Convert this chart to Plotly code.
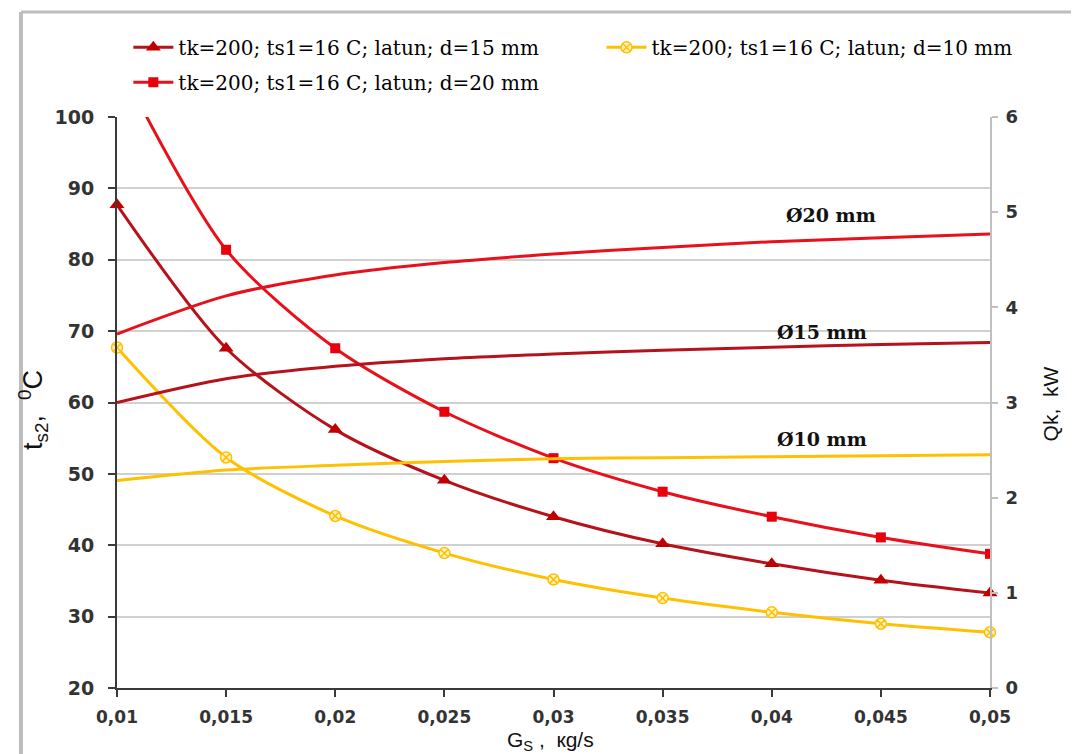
import plotly.graph_objects as go

gs = [0.01, 0.015, 0.02, 0.025, 0.03, 0.035, 0.04, 0.045, 0.05]
x_tick_text = ["0,01", "0,015", "0,02", "0,025", "0,03", "0,035", "0,04", "0,045", "0,05"]

# outlet temperature ts2 (left axis)
ts2_d15 = [87.7, 67.6, 56.2, 49.1, 44.0, 40.2, 37.4, 35.1, 33.3]
ts2_d20 = [108.0, 81.4, 67.6, 58.7, 52.2, 47.5, 44.0, 41.1, 38.8]
ts2_d10 = [67.7, 52.3, 44.1, 38.9, 35.2, 32.6, 30.6, 29.0, 27.8]

# heat flow Qk (right axis)
qk_d20 = [3.72, 4.12, 4.34, 4.47, 4.56, 4.63, 4.69, 4.73, 4.77]
qk_d15 = [3.00, 3.25, 3.38, 3.46, 3.51, 3.55, 3.58, 3.61, 3.63]
qk_d10 = [2.18, 2.29, 2.34, 2.38, 2.41, 2.42, 2.43, 2.44, 2.45]

names = ["tk=200; ts1=16 C; latun; d=15 mm",
         "tk=200; ts1=16 C; latun; d=10 mm",
         "tk=200; ts1=16 C; latun; d=20 mm"]
labels = ["Ø20 mm", "Ø15 mm", "Ø10 mm"]
label_x = [0.0427, 0.0423, 0.0423]
label_y = [86.3, 69.9, 54.9]

DARK = "#B5121B"
RED = "#E8101A"
YEL = "#FFC000"

fig = go.Figure()

# Qk curves (right axis)
for q, c in [(qk_d20, RED), (qk_d15, DARK), (qk_d10, YEL)]:
    fig.add_trace(go.Scatter(x=gs, y=q, yaxis="y2", mode="lines", showlegend=False,
                             line=dict(color=c, width=3, shape="spline", smoothing=0.8),
                             hoverinfo="skip"))

# ts2 curves (left axis)
fig.add_trace(go.Scatter(x=gs, y=ts2_d15, mode="lines+markers", name=names[0], legend="legend",
                         line=dict(color=DARK, width=3, shape="spline", smoothing=0.8),
                         marker=dict(symbol="triangle-up", size=13, color="#C00000"),
                         cliponaxis=False))
fig.add_trace(go.Scatter(x=gs, y=ts2_d10, mode="lines+markers", name=names[1], legend="legend2",
                         line=dict(color=YEL, width=3, shape="spline", smoothing=0.8),
                         marker=dict(symbol="circle-x", size=11, color="#FFF3C4",
                                     line=dict(color=YEL, width=1.5)),
                         cliponaxis=False))
fig.add_trace(go.Scatter(x=gs, y=ts2_d20, mode="lines+markers", name=names[2], legend="legend3",
                         line=dict(color=RED, width=3, shape="spline", smoothing=0.8),
                         marker=dict(symbol="square", size=10, color="#E8000C"),
                         cliponaxis=True))

for t, xx, yy in zip(labels, label_x, label_y):
    fig.add_annotation(x=xx, y=yy, xref="x", yref="y", text="<b>" + t + "</b>", showarrow=False,
                       font=dict(family="DejaVu Serif", size=19, color="#111111"))

# axis titles
fig.add_annotation(x=-0.0962, y=0.487, xref="paper", yref="paper", textangle=-90, showarrow=False,
                   xanchor="center", yanchor="middle",
                   text="t<sub>s2</sub>,  <sup>0</sup>C",
                   font=dict(family="Liberation Sans", size=27, color="#111111"))
fig.add_annotation(x=1.069, y=0.497, xref="paper", yref="paper", textangle=-90, showarrow=False,
                   xanchor="center", yanchor="middle",
                   text="Qk,  kW",
                   font=dict(family="Liberation Sans", size=21, color="#111111"))
fig.add_annotation(x=0.496, y=-0.093, xref="paper", yref="paper", showarrow=False,
                   xanchor="center", yanchor="middle",
                   text="G<sub>S</sub> ,  кg/s",
                   font=dict(family="Liberation Sans", size=21, color="#111111"))

# outer frame
fig.add_shape(type="line", xref="paper", yref="paper", x0=-0.11, x1=1.13, y0=1.184, y1=1.184,
              line=dict(color="#BDBDBD", width=3), layer="above")
fig.add_shape(type="line", xref="paper", yref="paper", x0=-0.11, x1=-0.11, y0=-0.118, y1=1.184,
              line=dict(color="#BDBDBD", width=4), layer="above")

legfont = dict(family="DejaVu Serif", size=20, color="#000000")
common = dict(orientation="v", xanchor="left", yanchor="middle", font=legfont,
              bgcolor="rgba(0,0,0,0)", itemwidth=40)
fig.update_layout(
    width=1079, height=754,
    margin=dict(l=109, r=97, t=109, b=74),
    paper_bgcolor="white", plot_bgcolor="white",
    legend=dict(x=0.013, y=1.122, **common),
    legend2=dict(x=0.555, y=1.122, **common),
    legend3=dict(x=0.013, y=1.061, **common),
    xaxis=dict(range=[0.01, 0.05], tickvals=gs, ticktext=x_tick_text,
               showgrid=False, zeroline=False, showline=True, linecolor="#3A3A3A", linewidth=2,
               ticks="outside", ticklen=7, tickcolor="#3A3A3A", tickwidth=1.5, ticklabelstandoff=6,
               tickfont=dict(family="DejaVu Sans", size=17, color="#333333", weight="bold")),
    yaxis=dict(range=[20, 100], dtick=10, showgrid=True, gridcolor="#D0D0D0", gridwidth=2,
               zeroline=False, showline=True, linecolor="#3A3A3A", linewidth=2,
               ticks="outside", ticklen=7, tickcolor="#3A3A3A", tickwidth=1.5, ticklabelstandoff=10,
               tickfont=dict(family="DejaVu Sans", size=19, color="#333333", weight="bold")),
    yaxis2=dict(range=[0, 6], dtick=1, overlaying="y", side="right", showgrid=False,
                zeroline=False, showline=True, linecolor="#C0C0C0", linewidth=2,
                ticks="outside", ticklen=6, tickcolor="#C0C0C0", tickwidth=1.5, ticklabelstandoff=4,
                tickfont=dict(family="DejaVu Sans", size=18, color="#333333", weight="bold")),
    showlegend=True,
)

fig.write_html("out.html")
